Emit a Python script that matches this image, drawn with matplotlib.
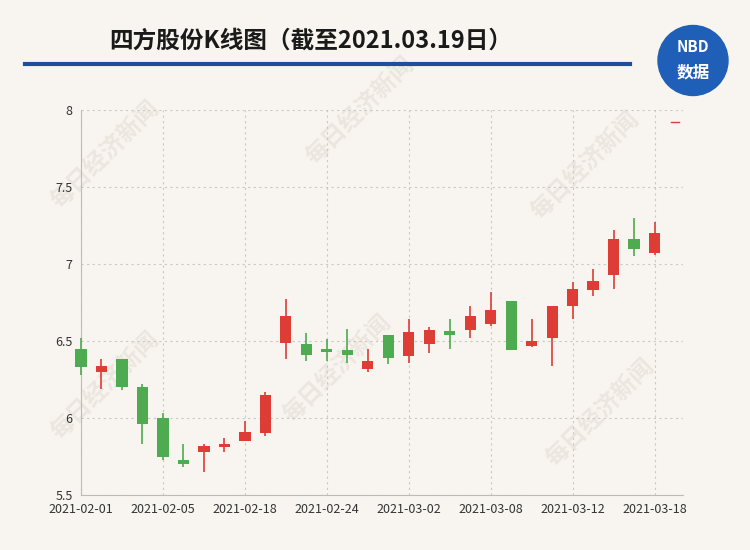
import matplotlib.pyplot as plt
from matplotlib.patches import Circle
import matplotlib.lines as mlines

plt.rcParams['font.family'] = ['Noto Sans CJK SC', 'DejaVu Sans']

dates = ['2021-02-01', '2021-02-02', '2021-02-03', '2021-02-04', '2021-02-05',
         '2021-02-08', '2021-02-09', '2021-02-10', '2021-02-18', '2021-02-19',
         '2021-02-22', '2021-02-23', '2021-02-24', '2021-02-25', '2021-02-26',
         '2021-03-01', '2021-03-02', '2021-03-03', '2021-03-04', '2021-03-05',
         '2021-03-08', '2021-03-09', '2021-03-10', '2021-03-11', '2021-03-12',
         '2021-03-15', '2021-03-16', '2021-03-17', '2021-03-18']
opens = [6.45, 6.30, 6.38, 6.20, 6.00, 5.73, 5.78, 5.81, 5.85, 5.90,
         6.49, 6.48, 6.45, 6.44, 6.32, 6.54, 6.40, 6.48, 6.565, 6.57,
         6.61, 6.76, 6.47, 6.52, 6.73, 6.83, 6.93, 7.16, 7.07]
closes = [6.33, 6.34, 6.20, 5.96, 5.75, 5.70, 5.82, 5.83, 5.91, 6.15,
          6.66, 6.41, 6.43, 6.41, 6.37, 6.39, 6.56, 6.57, 6.54, 6.66,
          6.70, 6.44, 6.50, 6.73, 6.84, 6.89, 7.16, 7.10, 7.20]
highs = [6.52, 6.38, 6.38, 6.22, 6.03, 5.83, 5.83, 5.87, 5.98, 6.17,
         6.77, 6.55, 6.51, 6.58, 6.45, 6.54, 6.64, 6.59, 6.64, 6.73,
         6.82, 6.76, 6.64, 6.73, 6.88, 6.97, 7.22, 7.30, 7.27]
lows = [6.28, 6.19, 6.18, 5.83, 5.73, 5.68, 5.65, 5.78, 5.85, 5.88,
        6.38, 6.37, 6.37, 6.36, 6.30, 6.35, 6.36, 6.42, 6.45, 6.52,
        6.60, 6.44, 6.46, 6.34, 6.64, 6.79, 6.84, 7.05, 7.06]
last_price = 7.92

RED = '#dd3d35'
GREEN = '#4eab4f'
BG = '#f8f5f0'

fig = plt.figure(figsize=(7.5, 5.5), dpi=100, facecolor=BG)

# watermarks behind everything
for (wx, wy) in [(0.14, 0.72), (0.48, 0.8), (0.78, 0.7), (0.14, 0.3), (0.45, 0.33), (0.8, 0.25)]:
    fig.text(wx, wy, '每日经济新闻', rotation=45, fontsize=17, color='#ebe6df',
             ha='center', va='center', zorder=0, fontweight='bold')

ax = fig.add_axes([0.108, 0.1, 0.803, 0.7])
ax.patch.set_alpha(0)
ax.set_zorder(2)

for i in range(len(dates)):
    c = RED if closes[i] >= opens[i] else GREEN
    ax.vlines(i, lows[i], highs[i], color=c, linewidth=1.2, zorder=3, clip_on=False)
    b = min(opens[i], closes[i])
    h = max(abs(closes[i] - opens[i]), 0.012)
    ax.bar(i, h, bottom=b, width=0.55, color=c, zorder=4, clip_on=False)

# small red mark for latest price, outside plot area
ax.plot([len(dates) - 0.2, len(dates) + 0.2], [last_price, last_price], color=RED,
        linewidth=1, clip_on=False)

ax.set_xlim(0, 29.4)
ax.set_ylim(5.5, 8)
tick_idx = list(range(0, len(dates), 4))
ax.set_xticks(tick_idx)
ax.set_xticklabels([dates[i] for i in tick_idx])
ax.set_yticks([5.5, 6, 6.5, 7, 7.5, 8])
ax.set_yticklabels(['5.5', '6', '6.5', '7', '7.5', '8'])
ax.grid(True, linestyle=(0, (2, 3)), color='#c8c8c8', linewidth=0.8)
ax.set_axisbelow(True)
for s in ['top', 'right']:
    ax.spines[s].set_visible(False)
for s in ['left', 'bottom']:
    ax.spines[s].set_color('#bbbbbb')
ax.tick_params(colors='#333333', labelsize=9, length=0, pad=6)

fig.text(0.145, 0.926, '四方股份K线图（截至2021.03.19日）', fontsize=17, fontweight='bold',
         color='#1a1a1a', va='center')
fig.add_artist(mlines.Line2D([0.033, 0.84], [0.884, 0.884], color='#1f4e9a', linewidth=3))

logo = Circle((0.924 * 7.5, 0.89 * 5.5), 0.35, transform=fig.dpi_scale_trans,
              color='#1f5fb8', zorder=5)
fig.add_artist(logo)
fig.text(0.924, 0.915, 'NBD', fontsize=11, fontweight='bold', color='white',
         ha='center', va='center', zorder=6)
fig.text(0.924, 0.868, '数据', fontsize=12, fontweight='bold', color='white',
         ha='center', va='center', zorder=6)

fig.savefig('out.png', dpi=100, facecolor=BG)
